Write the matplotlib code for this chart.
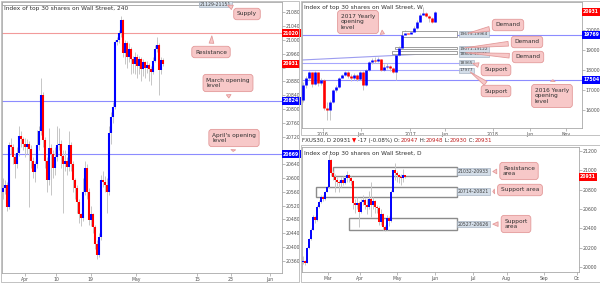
import numpy as np
import matplotlib
matplotlib.use("Agg")
import matplotlib.pyplot as plt
from matplotlib.patches import Rectangle

plt.rcParams['font.family'] = ['DejaVu Sans']

# ---- 4h chart (left) ----
h4_open0 = 20560
h4_close = [20571, 20580, 20516, 20696, 20690, 20660, 20640, 20672, 20722, 20712,
            20700, 20690, 20700, 20685, 20650, 20618, 20640, 20696, 20735, 20840,
            20710, 20650, 20594, 20687, 20670, 20629, 20660, 20696, 20700, 20665,
            20640, 20650, 20632, 20696, 20640, 20594, 20570, 20530, 20495, 20484,
            20560, 20629, 20560, 20479, 20495, 20458, 20410, 20378, 20429, 20594,
            20590, 20580, 20560, 20730, 20777, 20806, 20994, 21000, 21020, 21058,
            20962, 20990, 20951, 20975, 20945, 20930, 20950, 20925, 20945, 20915,
            20935, 20920, 20928, 20915, 20907, 20940, 20975, 20985, 20913, 20942, 20931]
h4_high = [20600, 20595, 20590, 20705, 20715, 20700, 20670, 20690, 20750, 20735,
           20720, 20715, 20712, 20708, 20695, 20660, 20650, 20740, 20750, 20890,
           20850, 20720, 20660, 20745, 20700, 20680, 20690, 20750, 20745, 20710,
           20680, 20680, 20660, 20735, 20705, 20650, 20600, 20580, 20540, 20500,
           20600, 20650, 20640, 20570, 20520, 20500, 20465, 20420, 20440, 20610,
           20620, 20605, 20600, 20750, 20790, 20820, 21000, 21010, 21030, 21070,
           21062, 21000, 20998, 20990, 20980, 20955, 20965, 20960, 20955, 20950,
           20945, 20940, 20940, 20932, 20925, 20950, 20985, 21010, 20990, 20950, 20948]
h4_low = [20540, 20555, 20505, 20510, 20670, 20640, 20600, 20630, 20665, 20690,
          20680, 20660, 20670, 20515, 20630, 20600, 20590, 20630, 20680, 20725,
          20690, 20630, 20560, 20580, 20550, 20600, 20610, 20650, 20680, 20630,
          20500, 20620, 20610, 20620, 20620, 20560, 20540, 20500, 20470, 20460,
          20475, 20550, 20540, 20465, 20460, 20440, 20395, 20365, 20370, 20420,
          20575, 20560, 20500, 20550, 20700, 20760, 20800, 20985, 20990, 21010,
          20950, 20930, 20920, 20935, 20900, 20905, 20900, 20890, 20900, 20880,
          20895, 20890, 20905, 20880, 20870, 20900, 20935, 20965, 20840, 20900, 20925]
h4_xticks = [11, 26.5, 43.8, 66.5, 97, 114, 133.5]
h4_xlabels = ['Apr', '10', '19', 'May', '15', '23', 'Jun']
h4_yticks = list(range(20360, 21081, 40))
h4_hidden_ticks = [20920, 20680]   # covered by price tags in the original
h4_resistance = 21020
h4_march_open = 20824
h4_april_open = 20669
h4_supply = (21100, 21151)
h4_last = 20931

# ---- weekly chart (top right) ----
w_open0 = 16475
w_close = [17235, 17590, 17895, 17300, 17895, 17350, 17500, 16100, 15970, 16400,
           16985, 17140, 17590, 17740, 17895, 17700, 17600, 17750, 17550, 17900,
           17235, 17995, 18400, 18500, 18450, 18550, 18000, 18150, 18200, 18100,
           17900, 18750, 19100, 19760, 19860, 19800, 19900, 20115, 20420, 20770,
           20890, 20700, 20620, 20420, 20931]
w_high = [17400, 17700, 17950, 17900, 17950, 17900, 17600, 17550, 16400, 16500,
          17050, 17250, 17650, 17800, 17950, 17950, 17800, 17850, 17800, 17950,
          17950, 18050, 18450, 18600, 18650, 18650, 18550, 18300, 18350, 18250,
          18150, 18800, 19200, 19800, 19990, 19950, 19980, 20200, 20500, 20850,
          21170, 20900, 20750, 20650, 20960]
w_low = [16400, 17100, 17500, 17150, 17250, 17200, 17250, 15950, 15450, 15450,
         16350, 16900, 17100, 17650, 17700, 17600, 17450, 17500, 17450, 17500,
         17000, 17200, 17950, 18300, 18350, 18400, 17950, 17950, 18050, 17950,
         17850, 17480, 18700, 19050, 19700, 19750, 19750, 19850, 20080, 20400,
         20750, 20650, 20400, 20350, 20400]
w_xticks = [6.6, 19.3, 35.7, 47.3, 63.3, 75.7, 87.7]
w_xlabels = ['2016', 'Jun', '2017', 'Jun', '2018', 'Jun', 'Nov']
w_yticks = [16000, 17000, 18000, 19000, 20000]
w_open_2017 = 19769
w_open_2016 = 17504
w_supports = [18365, 17977]
w_trend = ([-0.33, 46.7], [18500, 18850])
w_demand = [(19679, 19964, 32.9), (19040, 19170, 30.7), (18808, 18971, 29.6)]
w_demand_labels = ['19679-19964', '19071-19122', '18808-18971']
w_demand_label_y = [19820, 19050, 18790]

# ---- daily chart (bottom right) ----
d_open0 = 20050
d_close = [20070, 20045, 20200, 20290, 20385, 20520, 20490, 20624, 20675, 20727,
           20700, 20778, 20830, 21104, 20967, 20932, 20900, 20880, 20864, 20898,
           20870, 20915, 20950, 20920, 20890, 20658, 20640, 20660, 20572, 20675,
           20690, 20640, 20620, 20700, 20641, 20680, 20620, 20615, 20469, 20550,
           20420, 20384, 20504, 20480, 20778, 21000, 20967, 20945, 20932, 20920,
           20948, 20931]
d_high = [20120, 20080, 20210, 20300, 20400, 20540, 20530, 20640, 20690, 20740,
          20740, 20790, 20840, 21170, 21110, 20990, 20960, 20930, 20900, 20930,
          20940, 20930, 20990, 20960, 20940, 20900, 20700, 20720, 20680, 20700,
          20740, 20710, 20700, 20790, 20880, 20720, 20690, 20640, 20630, 20600,
          20560, 20440, 20540, 20530, 20800, 21000, 21070, 20990, 20960, 20960,
          21010, 20950]
d_low = [20030, 20020, 20040, 20190, 20280, 20380, 20460, 20480, 20610, 20660,
         20680, 20690, 20770, 20820, 20940, 20900, 20780, 20840, 20770, 20830,
         20850, 20860, 20880, 20880, 20850, 20600, 20560, 20600, 20420, 20560,
         20640, 20600, 20550, 20600, 20520, 20600, 20560, 20560, 20440, 20440,
         20380, 20370, 20380, 20430, 20470, 20770, 20900, 20880, 20870, 20850,
         20880, 20920]
d_xticks = [12.35, 28.5, 47.15, 66, 84.85, 101.85, 120.5, 136.85]
d_xlabels = ['Mar', 'Apr', 'May', 'Jun', 'Jul', 'Aug', 'Sep', 'Oc']
d_yticks = list(range(20000, 21201, 200))
d_zones = [(20940, 21029, 15.15), (20727, 20830, 6.5), (20384, 20504, 23)]
d_zone_labels = ['21032-20933', '20714-20821', '20527-20626']

W, H = 600, 283
TXT = '#303030'
BLUE = '#0000ff'
RED = '#ff0000'
PINK = '#f7c8c8'
PINK_EDGE = '#e39a9a'
LEVEL_BLUE = '#8c8cff'


def px_axes(x0, y0, x1, y1):
    return fig.add_axes([x0 / W, 1 - y1 / H, (x1 - x0) / W, (y1 - y0) / H])


def fpos(px, py):
    return (px / W, 1 - py / H)


def style_axes(ax, xticks, xlabels, yticks, hidden=()):
    for s in ax.spines.values():
        s.set_color('#a8a8a8')
        s.set_linewidth(0.6)
    ax.yaxis.tick_right()
    ax.set_xticks(xticks)
    ax.set_xticklabels(xlabels)
    ax.set_yticks(yticks)
    ax.set_yticklabels(['' if t in hidden else str(t) for t in yticks])
    ax.tick_params(labelsize=3.3, colors='#a0a0a0', labelcolor='#505050',
                   length=1.8, width=0.5, pad=1.0)


def candles(ax, open0, close, high, low, body_w):
    c = np.array(close, dtype=float)
    o = np.r_[open0, c[:-1]]
    x = np.arange(len(c))
    ax.vlines(x, low, high, color='#c6c6c6', lw=0.7, zorder=2)
    up = c >= o
    ax.vlines(x[up], o[up], c[up], color=BLUE, lw=body_w, zorder=3)
    ax.vlines(x[~up], o[~up], c[~up], color=RED, lw=body_w, zorder=3)


def tag(ax, value, color):
    ax.text(1.004, value, f'{value}', transform=ax.get_yaxis_transform(),
            ha='left', va='center', fontsize=3.3, color='white', fontweight='bold',
            bbox=dict(boxstyle='square,pad=0.3', fc=color, ec='none'),
            clip_on=False, zorder=8)


def zone_label(ax, x, y, s, size=3.3):
    ax.text(x, y, s, ha='left', va='center', fontsize=size, color='#404040',
            bbox=dict(boxstyle='square,pad=0.15', fc='#d3dde8', ec='#9aa8b8', lw=0.4),
            zorder=7)


def callout(ax, s, xy, center):
    ax.annotate(s, xy=xy, xycoords='data', xytext=fpos(*center),
                textcoords='figure fraction', ha='center', va='center',
                multialignment='left', fontsize=4.2, color='#303030',
                bbox=dict(boxstyle='round,pad=0.55,rounding_size=0.5', fc=PINK,
                          ec=PINK_EDGE, lw=0.6),
                arrowprops=dict(arrowstyle='wedge,tail_width=0.8,shrink_factor=0.5',
                                fc=PINK, ec=PINK_EDGE, lw=0.6),
                zorder=9, annotation_clip=False)


fig = plt.figure(figsize=(W / 100, H / 100), dpi=100)
fig.patch.set_facecolor('white')

# panel frames
for (x0, y0, x1, y1) in [(0.5, 0.5, 299, 282), (300.5, 0.5, 599.5, 134.5), (300.5, 144.5, 599.5, 282)]:
    fig.patches.append(Rectangle((x0 / W, 1 - y1 / H), (x1 - x0) / W, (y1 - y0) / H,
                                 transform=fig.transFigure, fill=False,
                                 ec='#b8b8b8', lw=0.6))

# ---------- left: 4h ----------
ax1 = px_axes(2, 2, 282, 273)
candles(ax1, h4_open0, h4_close, h4_high, h4_low, 1.5)
ax1.set_xlim(-0.5, 139.5)
ax1.set_ylim(20325, 21110)
style_axes(ax1, h4_xticks, h4_xlabels, h4_yticks, h4_hidden_ticks)
ax1.axhline(h4_resistance, color='#f29a9a', lw=0.8, zorder=1)
ax1.axhline(h4_march_open, color=LEVEL_BLUE, lw=0.8, zorder=1)
ax1.axhline(h4_april_open, color=LEVEL_BLUE, lw=0.8, zorder=1)
ax1.add_patch(Rectangle((-0.5, h4_supply[0]), 98.5, h4_supply[1] - h4_supply[0],
                        fill=False, ec='#a0a0a0', lw=0.6, zorder=2))
zone_label(ax1, 98.3, 21104, '21129-21151')
ax1.text(0.008, 0.987, 'Index of top 30 shares on Wall Street, 240',
         transform=ax1.transAxes, va='top', fontsize=4.2, color=TXT)
tag(ax1, h4_resistance, RED)
tag(ax1, h4_last, RED)
tag(ax1, h4_march_open, BLUE)
tag(ax1, h4_april_open, BLUE)
callout(ax1, 'Supply', (111, 21104), (247, 14))
callout(ax1, 'Resistance', (104.5, h4_resistance), (211, 52))
callout(ax1, 'March opening\nlevel', (113, h4_march_open), (228, 83))
callout(ax1, "April's opening\nlevel", (115, h4_april_open), (234, 138))

# ---------- top right: weekly ----------
ax2 = px_axes(302, 2, 582, 128)
candles(ax2, w_open0, w_close, w_high, w_low, 1.9)
ax2.set_xlim(-0.33, 93)
ax2.set_ylim(15066, 21429)
style_axes(ax2, w_xticks, w_xlabels, w_yticks)
ax2.axhline(w_open_2017, color=LEVEL_BLUE, lw=0.8, zorder=1)
ax2.axhline(w_open_2016, color=LEVEL_BLUE, lw=0.8, zorder=1)
for lvl in w_supports:
    ax2.plot([-0.33, 52], [lvl, lvl], color='#a6a6ff', lw=0.8, zorder=1)
ax2.plot(w_trend[0], w_trend[1], color='#9c9cf0', lw=0.8, zorder=1)
for (lo, hi, x0) in w_demand:
    ax2.add_patch(Rectangle((x0, lo), 51.2 - x0, hi - lo, fc='white', ec='#909090',
                            lw=0.6, zorder=2.5))
for lab, ly in zip(w_demand_labels, w_demand_label_y):
    zone_label(ax2, 52.3, ly, lab, size=3.1)
zone_label(ax2, 52.3, w_supports[0], f'{w_supports[0]}', size=3.1)
zone_label(ax2, 52.3, w_supports[1], f'{w_supports[1]}', size=3.1)
ax2.text(0.008, 0.975, 'Index of top 30 shares on Wall Street, W',
         transform=ax2.transAxes, va='top', fontsize=4.2, color=TXT)
tag(ax2, w_close[-1], RED)
tag(ax2, w_open_2017, BLUE)
tag(ax2, w_open_2016, BLUE)
callout(ax2, '2017 Yearly\nopening\nlevel', (28, w_open_2017), (358, 22))
callout(ax2, 'Demand', (54, 19820), (508, 25))
callout(ax2, 'Demand', (53, 19100), (527, 42))
callout(ax2, 'Demand', (53.3, 18880), (528, 57))
callout(ax2, 'Support', (55.7, w_supports[0]), (496, 70))
callout(ax2, 'Support', (55, w_supports[1]), (496, 91))
callout(ax2, '2016 Yearly\nopening\nlevel', (83.3, w_open_2016), (552, 96))

# header line of daily chart
hdr = [('FXUS30, D ', TXT), ('20931 ', TXT), ('\u25bc', RED), (' -17 (-0.08%) O:', TXT),
       ('20947', '#c02020'), (' H:', TXT), ('20948', '#c02020'), (' L:', TXT),
       ('20930', '#c02020'), (' C:', TXT), ('20931', '#c02020')]
prev = fig.text(302 / W, 1 - 143 / H, hdr[0][0], fontsize=4.0, color=hdr[0][1],
                va='bottom', ha='left')
for s, col in hdr[1:]:
    prev = fig.add_artist(matplotlib.text.Annotation(
        s, xy=(1, 0), xycoords=prev, va='bottom', ha='left',
        fontsize=4.0, color=col, annotation_clip=False))

# ---------- bottom right: daily ----------
ax3 = px_axes(302, 147, 579, 272)
candles(ax3, d_open0, d_close, d_high, d_low, 1.4)
ax3.set_xlim(-0.5, 138)
ax3.set_ylim(19952, 21238)
style_axes(ax3, d_xticks, d_xlabels, d_yticks)
for (lo, hi, x0) in d_zones:
    ax3.add_patch(Rectangle((x0, lo), 76.85 - x0, hi - lo, fill=False, ec='#8c8c8c',
                            lw=1.0, zorder=1))
for (lo, hi, x0), lab in zip(d_zones, d_zone_labels):
    zone_label(ax3, 77.5, (lo + hi) / 2, lab)
ax3.text(0.008, 0.97, 'Index of top 30 shares on Wall Street, D',
         transform=ax3.transAxes, va='top', fontsize=4.2, color=TXT)
tag(ax3, d_close[-1], RED)
callout(ax3, 'Resistance\narea', (93.5, 20985), (519, 171))
callout(ax3, 'Support area', (93.5, 20778), (520, 190))
callout(ax3, 'Support\narea', (93.5, 20444), (516, 224))

fig.savefig('out.png', dpi=100)
